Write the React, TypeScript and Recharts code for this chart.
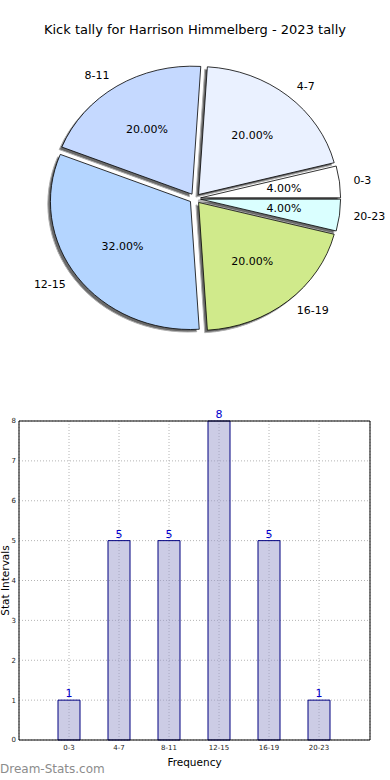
import { PieChart, Pie, BarChart, Bar, XAxis, YAxis, CartesianGrid, LabelList } from 'recharts';

const categories = ['0-3', '4-7', '8-11', '12-15', '16-19', '20-23'];
const tallies = [1, 5, 5, 8, 5, 1];
const sliceColors = ['#ffffff', '#eaf1ff', '#c5d9ff', '#b4d5ff', '#d0ea8b', '#daffff'];
const yTicks = [0, 1, 2, 3, 4, 5, 6, 7, 8];

const pieData = categories.map((name, i) => ({ name, value: tallies[i] }));
const barData = categories.map((name, i) => ({ name, value: tallies[i] }));

const FONT = '"DejaVu Sans", Verdana, sans-serif';
// matplotlib drew the pie on non-equal axes, so it is a bit wider than tall
const X_STRETCH = 1.094;
const EXPLODE = 0.04;
const RAD = Math.PI / 180;

function wedgePath(cx: number, cy: number, rx: number, ry: number, a0: number, a1: number) {
  const x0 = cx + rx * Math.cos(a0 * RAD);
  const y0 = cy - ry * Math.sin(a0 * RAD);
  const x1 = cx + rx * Math.cos(a1 * RAD);
  const y1 = cy - ry * Math.sin(a1 * RAD);
  const large = a1 - a0 > 180 ? 1 : 0;
  return `M${cx},${cy} L${x0},${y0} A${rx},${ry} 0 ${large} 0 ${x1},${y1} Z`;
}

function geom(props: any) {
  const { cx, cy, outerRadius, startAngle, endAngle } = props;
  const mid = (startAngle + endAngle) / 2;
  const ry = outerRadius;
  const rx = outerRadius * X_STRETCH;
  const ox = EXPLODE * rx * Math.cos(mid * RAD);
  const oy = -EXPLODE * ry * Math.sin(mid * RAD);
  return { cx: cx + ox, cy: cy + oy, rx, ry, mid, startAngle, endAngle };
}

const renderShadow = (props: any) => {
  const g = geom(props);
  return (
    <path
      d={wedgePath(g.cx - 2.6, g.cy + 2.5, g.rx, g.ry, g.startAngle, g.endAngle)}
      fill="#6a6a6a"
      stroke="#b0b0b0"
      strokeWidth={1}
    />
  );
};

const renderWedge = (props: any) => {
  const g = geom(props);
  const idx = props.index;
  const cosM = Math.cos(g.mid * RAD);
  const sinM = Math.sin(g.mid * RAD);
  const px = g.cx + 0.6 * g.rx * cosM;
  const py = g.cy - 0.6 * g.ry * sinM;
  const lx = g.cx + 1.1 * g.rx * cosM;
  const ly = g.cy - 1.1 * g.ry * sinM;
  return (
    <g>
      <path
        d={wedgePath(g.cx, g.cy, g.rx, g.ry, g.startAngle, g.endAngle)}
        fill={sliceColors[idx]}
        stroke="#000"
        strokeWidth={0.8}
      />
      <text x={px} y={py} textAnchor="middle" dominantBaseline="central" fontSize={11} fontFamily={FONT} fill="#000">
        {(props.percent * 100).toFixed(2)}%
      </text>
      <text x={lx} y={ly} textAnchor={cosM >= 0 ? 'start' : 'end'} dominantBaseline="central" fontSize={11} fontFamily={FONT} fill="#000">
        {props.name}
      </text>
    </g>
  );
};

export default function App() {
  return (
    <div style={{ position: 'absolute', left: 0, top: 0, width: 390, height: 780, background: '#fff', fontFamily: FONT }}>
      <div style={{ position: 'absolute', left: 0, top: 22, width: 390, textAlign: 'center', fontSize: 13, color: '#000' }}>
        Kick tally for Harrison Himmelberg - 2023 tally
      </div>

      <div style={{ position: 'absolute', left: 0, top: 0 }}>
        <PieChart width={390} height={360} margin={{ top: 0, right: 0, bottom: 0, left: 0 }}>
          {/* shadows first so every wedge sits above them */}
          <Pie data={pieData} dataKey="value" nameKey="name" cx={195} cy={198.5} outerRadius={128}
            startAngle={0} endAngle={360} fill="transparent" stroke="none"
            label={renderShadow} labelLine={false} isAnimationActive={false} />
          <Pie data={pieData} dataKey="value" nameKey="name" cx={195} cy={198.5} outerRadius={128}
            startAngle={0} endAngle={360} fill="transparent" stroke="none"
            label={renderWedge} labelLine={false} isAnimationActive={false} />
        </PieChart>
      </div>

      <div style={{ position: 'absolute', left: 0, top: 400 }}>
        <BarChart width={390} height={380} data={barData} margin={{ top: 20, right: 19, left: 0, bottom: 0 }}>
          <CartesianGrid stroke="#b4b4b4" strokeDasharray="1 2" />
          <XAxis dataKey="name" padding={{ left: 25, right: 26 }} height={40}
            tickSize={0} tickMargin={5} axisLine={{ stroke: '#000' }}
            tick={{ fontSize: 7, fill: '#222', fontFamily: FONT }}
            label={{ value: 'Frequency', position: 'insideBottom', offset: 14, fontSize: 10.5, fill: '#000', fontFamily: FONT }} />
          <XAxis xAxisId="top" orientation="top" dataKey="name" height={1} tick={false} tickLine={false}
            axisLine={{ stroke: '#000' }} />
          <YAxis domain={[0, 8]} ticks={yTicks} width={19} tickSize={0} tickMargin={3}
            axisLine={{ stroke: '#000' }} tick={{ fontSize: 7, fill: '#222', fontFamily: FONT }}
            label={{ value: 'Stat Intervals', angle: -90, position: 'insideLeft', offset: 5, fontSize: 10.5, fill: '#000', fontFamily: FONT, style: { textAnchor: 'middle' } }} />
          <YAxis yAxisId="right" orientation="right" width={1} domain={[0, 8]} tick={false} tickLine={false}
            axisLine={{ stroke: '#000' }} />
          <Bar dataKey="value" barSize={22} fill="#9999cc" fillOpacity={0.5} stroke="#000080" strokeWidth={1} isAnimationActive={false}>
            <LabelList dataKey="value" position="top" offset={3} fill="#0000cc" fontSize={11} fontFamily={FONT} />
          </Bar>
        </BarChart>
      </div>

      <div style={{ position: 'absolute', left: 0, top: 762, fontSize: 12, color: '#8c8c8c' }}>
        Dream-Stats.com
      </div>
    </div>
  );
}
